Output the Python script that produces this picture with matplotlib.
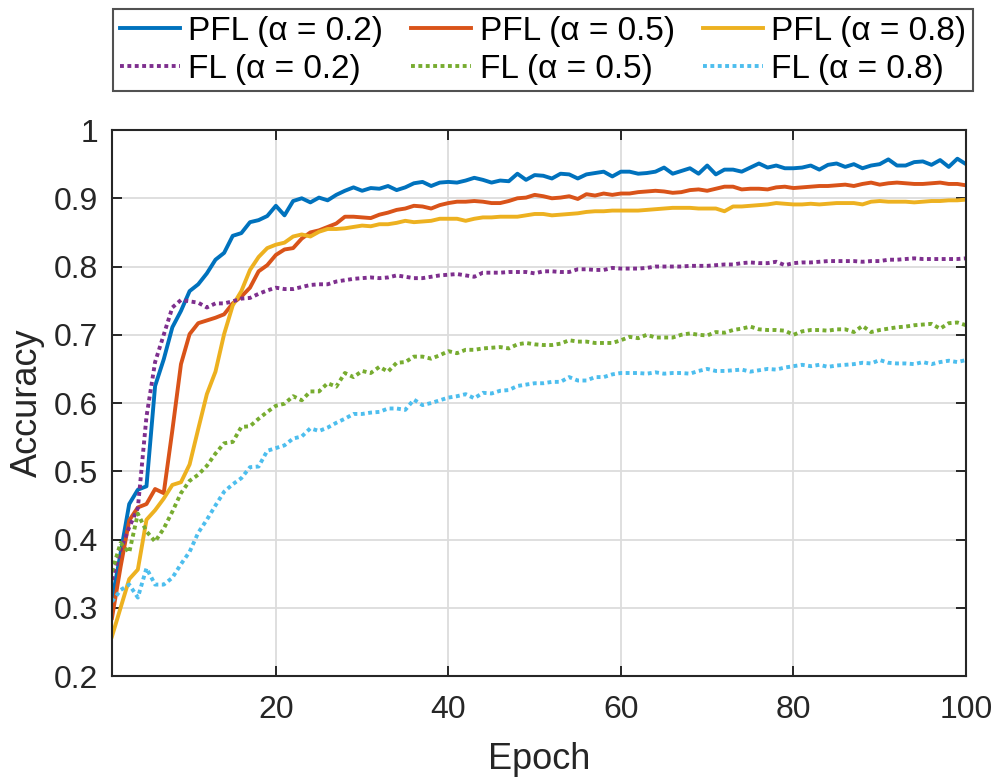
import matplotlib
matplotlib.use('Agg')
import matplotlib.pyplot as plt
import numpy as np

plt.rcParams['font.family'] = ['Liberation Sans', 'DejaVu Sans']

epochs = np.arange(1, 101)

# accuracy per epoch
pfl_02 = [0.311, 0.38, 0.452, 0.473, 0.478, 0.625, 0.664, 0.711, 0.735, 0.764,
          0.774, 0.79, 0.81, 0.82, 0.845, 0.849, 0.865, 0.868, 0.874, 0.889,
          0.875, 0.896, 0.9, 0.894, 0.901, 0.897, 0.905, 0.911, 0.916, 0.911,
          0.915, 0.914, 0.918, 0.912, 0.916, 0.922, 0.924, 0.918, 0.923, 0.924,
          0.923, 0.926, 0.93, 0.927, 0.923, 0.926, 0.925, 0.936, 0.927, 0.934,
          0.933, 0.929, 0.936, 0.935, 0.929, 0.935, 0.937, 0.939, 0.932, 0.939,
          0.939, 0.936, 0.937, 0.939, 0.945, 0.936, 0.94, 0.944, 0.936, 0.948,
          0.935, 0.942, 0.942, 0.939, 0.945, 0.951, 0.945, 0.948, 0.944, 0.944,
          0.945, 0.948, 0.942, 0.949, 0.951, 0.946, 0.95, 0.944, 0.948, 0.95,
          0.957, 0.948, 0.948, 0.953, 0.954, 0.949, 0.956, 0.946, 0.958, 0.95]
pfl_05 = [0.285, 0.36, 0.428, 0.447, 0.452, 0.474, 0.468, 0.56, 0.657, 0.701,
          0.717, 0.721, 0.725, 0.73, 0.746, 0.756, 0.769, 0.793, 0.802, 0.817,
          0.825, 0.827, 0.841, 0.85, 0.853, 0.858, 0.863, 0.873, 0.873, 0.872,
          0.871, 0.876, 0.879, 0.883, 0.885, 0.889, 0.888, 0.885, 0.89, 0.893,
          0.895, 0.895, 0.896, 0.895, 0.893, 0.893, 0.896, 0.9, 0.901, 0.905,
          0.903, 0.9, 0.901, 0.903, 0.899, 0.906, 0.904, 0.907, 0.905, 0.907,
          0.907, 0.909, 0.91, 0.911, 0.91, 0.908, 0.909, 0.912, 0.913, 0.911,
          0.914, 0.917, 0.917, 0.913, 0.914, 0.914, 0.913, 0.916, 0.917, 0.915,
          0.916, 0.917, 0.918, 0.918, 0.919, 0.92, 0.918, 0.921, 0.923, 0.92,
          0.922, 0.923, 0.922, 0.921, 0.921, 0.922, 0.923, 0.921, 0.921, 0.919]
pfl_08 = [0.258, 0.3, 0.342, 0.356, 0.429, 0.443, 0.46, 0.48, 0.484, 0.51,
          0.562, 0.613, 0.646, 0.701, 0.743, 0.764, 0.795, 0.814, 0.827, 0.832,
          0.835, 0.844, 0.847, 0.844, 0.851, 0.855, 0.855, 0.856, 0.858, 0.86,
          0.859, 0.862, 0.862, 0.864, 0.867, 0.865, 0.866, 0.867, 0.87, 0.87,
          0.87, 0.867, 0.87, 0.872, 0.872, 0.873, 0.873, 0.873, 0.875, 0.877,
          0.877, 0.875, 0.876, 0.877, 0.878, 0.88, 0.881, 0.881, 0.882, 0.882,
          0.882, 0.882, 0.883, 0.884, 0.885, 0.886, 0.886, 0.886, 0.885, 0.885,
          0.885, 0.881, 0.888, 0.888, 0.889, 0.89, 0.891, 0.893, 0.892, 0.891,
          0.891, 0.892, 0.891, 0.892, 0.893, 0.893, 0.893, 0.891, 0.895, 0.896,
          0.895, 0.895, 0.895, 0.894, 0.895, 0.896, 0.896, 0.897, 0.897, 0.898]
fl_02 = [0.341, 0.385, 0.418, 0.446, 0.58, 0.66, 0.7, 0.74, 0.751, 0.749,
         0.747, 0.74, 0.746, 0.746, 0.749, 0.753, 0.754, 0.76, 0.765, 0.769,
         0.767, 0.767, 0.77, 0.773, 0.774, 0.774, 0.778, 0.78, 0.782, 0.783,
         0.784, 0.783, 0.784, 0.787, 0.785, 0.783, 0.783, 0.785, 0.787, 0.788,
         0.789, 0.787, 0.785, 0.791, 0.791, 0.791, 0.792, 0.792, 0.792, 0.79,
         0.793, 0.793, 0.792, 0.792, 0.796, 0.796, 0.795, 0.795, 0.798, 0.797,
         0.797, 0.797, 0.798, 0.8, 0.8, 0.8, 0.8, 0.801, 0.801, 0.801,
         0.802, 0.803, 0.803, 0.805, 0.806, 0.805, 0.805, 0.807, 0.802, 0.805,
         0.806, 0.806, 0.807, 0.808, 0.808, 0.808, 0.808, 0.807, 0.808, 0.808,
         0.81, 0.81, 0.811, 0.812, 0.811, 0.811, 0.811, 0.811, 0.811, 0.812]
fl_05 = [0.353, 0.395, 0.381, 0.438, 0.412, 0.397, 0.416, 0.441, 0.468, 0.486,
         0.495, 0.508, 0.526, 0.541, 0.543, 0.565, 0.566, 0.577, 0.587, 0.596,
         0.599, 0.61, 0.604, 0.617, 0.617, 0.629, 0.624, 0.644, 0.638, 0.647,
         0.644, 0.653, 0.646, 0.659, 0.66, 0.668, 0.668, 0.665, 0.67, 0.676,
         0.673, 0.678, 0.678, 0.68, 0.681, 0.682, 0.68, 0.686, 0.688, 0.686,
         0.685, 0.685, 0.687, 0.692, 0.69, 0.69, 0.688, 0.688, 0.688, 0.692,
         0.697, 0.695, 0.7, 0.696, 0.696, 0.696, 0.7, 0.702, 0.7, 0.699,
         0.704, 0.703, 0.707, 0.709, 0.712, 0.708, 0.707, 0.707, 0.706, 0.7,
         0.705, 0.707, 0.707, 0.706, 0.708, 0.708, 0.704, 0.713, 0.704, 0.707,
         0.709, 0.711, 0.712, 0.714, 0.715, 0.716, 0.709, 0.717, 0.718, 0.714]
fl_08 = [0.309, 0.326, 0.334, 0.315, 0.358, 0.334, 0.334, 0.344, 0.364, 0.382,
         0.41, 0.429, 0.45, 0.47, 0.481, 0.49, 0.506, 0.507, 0.53, 0.534,
         0.538, 0.548, 0.551, 0.563, 0.559, 0.564, 0.571, 0.577, 0.584, 0.584,
         0.586, 0.587, 0.592, 0.592, 0.59, 0.605, 0.597, 0.6, 0.604, 0.608,
         0.61, 0.613, 0.607, 0.615, 0.614, 0.618, 0.619, 0.625, 0.627, 0.629,
         0.629, 0.631, 0.631, 0.638, 0.633, 0.633, 0.638, 0.638, 0.642, 0.644,
         0.644, 0.644, 0.643, 0.645, 0.643, 0.644, 0.644, 0.643, 0.647, 0.65,
         0.647, 0.647, 0.648, 0.649, 0.646, 0.648, 0.65, 0.649, 0.652, 0.654,
         0.656, 0.654, 0.656, 0.653, 0.655, 0.656, 0.657, 0.659, 0.658, 0.663,
         0.659, 0.658, 0.658, 0.657, 0.66, 0.657, 0.66, 0.662, 0.66, 0.663]

series = [
    (pfl_02, 'PFL (α = 0.2)', '#0072BD', '-'),
    (pfl_05, 'PFL (α = 0.5)', '#D95319', '-'),
    (pfl_08, 'PFL (α = 0.8)', '#EDB120', '-'),
    (fl_02, 'FL (α = 0.2)', '#7E2F8E', (0, (1.0, 0.9))),
    (fl_05, 'FL (α = 0.5)', '#77AC30', (0, (1.0, 0.9))),
    (fl_08, 'FL (α = 0.8)', '#4DBEEE', (0, (1.0, 0.9))),
]

fig = plt.figure(figsize=(9.97, 7.81), dpi=100)
ax = fig.add_axes([0.1123, 0.1344, 0.8566, 0.6991])

lines = []
for vals, lab, col, ls in series:
    ln, = ax.plot(epochs, vals, color=col, linestyle=ls, linewidth=2.8, label=lab)
    lines.append(ln)

ax.set_xlim(1, 100)
ax.set_ylim(0.2, 1.0)
ax.set_xticks([20, 40, 60, 80, 100])
ax.set_yticks(np.arange(0.2, 1.01, 0.1))
ax.set_yticklabels(['0.2', '0.3', '0.4', '0.5', '0.6', '0.7', '0.8', '0.9', '1'])
ax.grid(True, color='#dcdcdc', linewidth=1.3)
ax.set_axisbelow(True)
ax.tick_params(direction='in', length=7, width=1.4, labelsize=23,
               colors='#262626', top=True, right=True)
ax.tick_params(axis='x', pad=14)
ax.tick_params(axis='y', pad=10)
for sp in ax.spines.values():
    sp.set_color('#262626')
    sp.set_linewidth(1.5)

ax.set_xlabel('Epoch', fontsize=26, color='#262626', labelpad=12)
ax.set_ylabel('Accuracy', fontsize=26, color='#262626', labelpad=6)

# column-major fill: put PFL on row 1 and FL on row 2
order = [0, 3, 1, 4, 2, 5]
leg = fig.legend([lines[i] for i in order], [series[i][1] for i in order],
                 loc='center', bbox_to_anchor=(0.1133, 0.878, 0.8627, 0.1155),
                 mode='expand', ncol=3, fontsize=24, frameon=True, fancybox=False,
                 handlelength=1.8, handletextpad=0.25, columnspacing=0.4,
                 borderaxespad=0, borderpad=0.2, labelspacing=0.2)
leg.get_frame().set_edgecolor('#262626')
leg.get_frame().set_linewidth(1.5)

fig.savefig('out.png', dpi=100)
